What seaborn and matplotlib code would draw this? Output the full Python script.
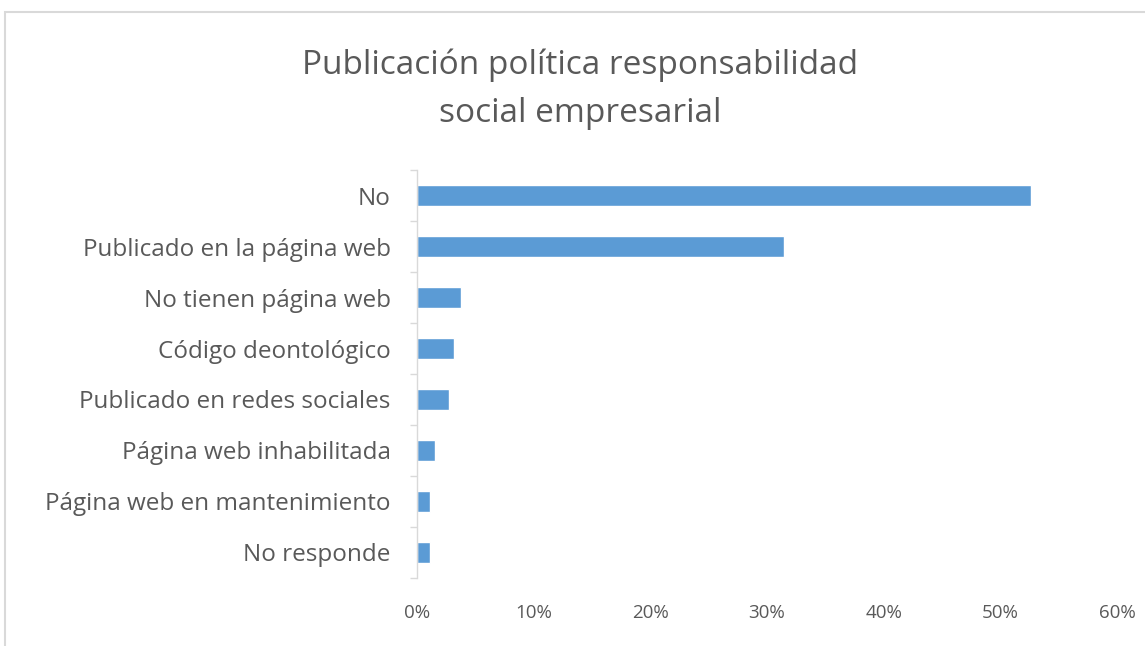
import matplotlib
matplotlib.use("Agg")
import matplotlib.pyplot as plt
import seaborn as sns
import pandas as pd
from matplotlib.patches import Rectangle
from matplotlib.ticker import FuncFormatter, FixedLocator

categories = ["No", "Publicado en la página web", "No tienen página web",
              "Código deontológico", "Publicado en redes sociales",
              "Página web inhabilitada", "Página web en mantenimiento", "No responde"]
values = [52.6, 31.5, 3.8, 3.2, 2.7, 1.5, 1.1, 1.1]
xticks = [0, 10, 20, 30, 40, 50, 60]
title = "Publicación política responsabilidad\nsocial empresarial"

sns.set_theme(style="white")
plt.rcParams['font.family'] = ['Open Sans', 'DejaVu Sans']

df = pd.DataFrame({"cat": categories, "val": values})
fig = plt.figure(figsize=(11.45, 6.46), dpi=100)
ax = fig.add_axes([0.3642, 0.1053, 0.6113, 0.6315])
sns.barplot(data=df, x="val", y="cat", orient="h", color="#5B9BD5",
            saturation=1, width=0.4, ax=ax)
ax.set_xlim(0, 60)
ax.set_ylim(len(categories) - 0.5, -0.5)
ax.xaxis.set_major_locator(FixedLocator(xticks))
ax.xaxis.set_major_formatter(FuncFormatter(lambda v, p: f"{int(v)}%"))
ax.set_xlabel("")
ax.set_ylabel("")
for s in ["top", "right", "bottom"]:
    ax.spines[s].set_visible(False)
ax.spines["left"].set_color("#D9D9D9")
ax.spines["left"].set_linewidth(1)
ax.tick_params(axis="x", length=0, labelsize=13.5, labelcolor="#595959", pad=19)
ax.tick_params(axis="y", length=0, labelsize=17.5, labelcolor="#595959", pad=19)
ax.set_yticks(range(len(categories)))
ax.set_yticks([i - 0.5 for i in range(len(categories) + 1)], minor=True)
ax.tick_params(axis="y", which="minor", length=5, color="#D9D9D9", left=True)
ax.grid(False)

fig.text(0.507, 0.862, title, ha="center", va="center", fontsize=24,
         color="#595959", linespacing=1.6)
fig.patches.append(Rectangle((5 / 1145, -0.01), 1.2, (646 - 12) / 646 + 0.01,
                             transform=fig.transFigure, fill=False,
                             edgecolor="#D9D9D9", linewidth=1.5))
fig.savefig("out.png", dpi=100, facecolor="white")
